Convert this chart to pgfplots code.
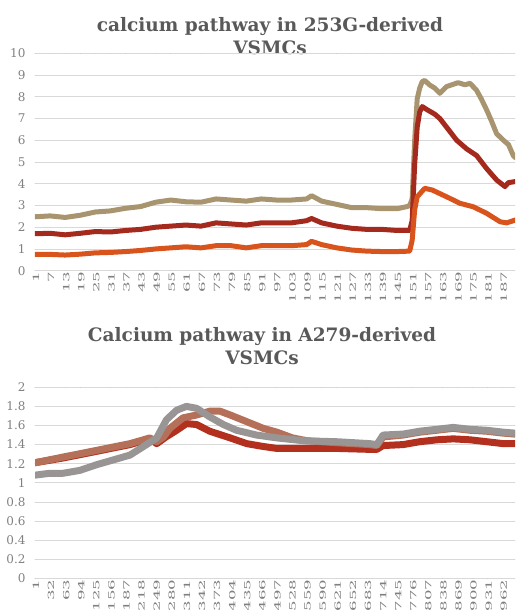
\documentclass[border=0pt]{standalone}
\usepackage{pgfplots}
\pgfplotsset{compat=1.18}
\usepackage{fontspec}
\setmainfont{DejaVu Serif}
\definecolor{tan}{HTML}{A8956F}
\definecolor{dred}{HTML}{A52A1E}
\definecolor{orng}{HTML}{D9541C}
\definecolor{bred}{HTML}{B3301E}
\definecolor{brwn}{HTML}{B5705A}
\definecolor{gry}{HTML}{9A9595}
\definecolor{gridgray}{HTML}{D9D9D9}
\definecolor{ticktxt}{HTML}{808080}
\definecolor{titletxt}{HTML}{595959}
\pgfplotsset{
  excel/.style={
    scale only axis,
    axis line style={draw=none},
    major tick length=0pt,
    ymajorgrids,
    grid style={draw=gridgray, line width=0.8pt},
    /pgf/number format/assume math mode=true,
    yticklabel style={font=\fontsize{12}{12}\selectfont, text=ticktxt, xshift=-6pt},
    xticklabel style={rotate=90, anchor=east, text=ticktxt, yshift=-1pt, inner sep=1pt},
    xticklabel={\scalebox{1.95}[1]{\fontsize{8.5}{8.5}\selectfont\pgfmathprintnumber{\tick}}},
    line join=round, line cap=round,
  }
}
\begin{document}
\begin{tikzpicture}[x=1pt,y=1pt]
\useasboundingbox (0,0) rectangle (515,610);
\node[align=center, text=titletxt, font=\fontsize{18.5}{23}\selectfont\bfseries] at (270,573.5) {calcium pathway in 253G-derived\\VSMCs};
\node[align=center, text=titletxt, font=\fontsize{18.5}{23}\selectfont\bfseries] at (262,264) {Calcium pathway in A279-derived\\VSMCs};
\begin{scope}
\clip (0,310) rectangle (515,610);
\begin{axis}[excel, at={(35pt,339.3pt)}, anchor=south west, width=480pt, height=217.4pt,
  xmin=1, xmax=191.9, ymin=0, ymax=10, ytick={0,1,...,10},
  xtick={1,7,...,187}]
\addplot[tan, line width=5pt] coordinates {
(1,2.48) (7,2.52) (13,2.45) (19,2.55) (25,2.7) (31,2.75) (37,2.87) (43,2.95) (49,3.15) (55,3.25)
(61,3.17) (67,3.15) (73,3.3) (79,3.25) (85,3.2) (91,3.3) (97,3.25) (103,3.25) (109,3.3) (111,3.45)
(115,3.2) (121,3.05) (127,2.9) (133,2.9) (139,2.85) (145,2.85) (149,2.95) (150,3.0) (151,3.3)
(152,6.0) (153,7.9) (154,8.4) (155,8.7) (156,8.75) (158,8.54) (160,8.4) (162,8.16) (164.7,8.47)
(169.3,8.65) (172,8.55) (174,8.62) (176.6,8.3) (178.5,7.9) (180.6,7.4) (182.5,6.9) (184.6,6.3)
(187.3,6.0) (189.3,5.8) (191.2,5.3) (192,5.2)};
\addplot[dred, line width=5pt] coordinates {
(1,1.7) (7,1.72) (13,1.65) (19,1.72) (25,1.8) (31,1.78) (37,1.85) (43,1.9) (49,2.0) (55,2.05)
(61,2.1) (67,2.05) (73,2.2) (79,2.15) (85,2.1) (91,2.2) (97,2.2) (103,2.2) (109,2.3) (111,2.4)
(115,2.2) (121,2.05) (127,1.95) (133,1.9) (139,1.9) (145,1.85) (150,1.85) (151,2.3) (152,4.9)
(153,6.6) (154,7.3) (155,7.55) (157,7.4) (160,7.2) (162,7.0) (164.7,6.6) (168.7,6.0) (172.7,5.6)
(176.6,5.3) (180.6,4.7) (184.6,4.17) (187.9,3.87) (189.3,4.05) (192,4.1)};
\addplot[orng, line width=5pt] coordinates {
(1,0.75) (7,0.75) (13,0.72) (19,0.76) (25,0.82) (31,0.84) (37,0.88) (43,0.93) (49,1.0) (55,1.05)
(61,1.1) (67,1.05) (73,1.15) (79,1.15) (85,1.05) (91,1.15) (97,1.15) (103,1.15) (109,1.2) (111,1.35)
(115,1.2) (121,1.05) (127,0.95) (133,0.9) (139,0.88) (145,0.88) (150,0.9) (151,1.4) (152,2.8)
(153,3.4) (156,3.79) (159,3.71) (164.7,3.4) (170,3.1) (175.3,2.94) (180.6,2.64) (186,2.25)
(188.6,2.2) (192,2.33)};
\end{axis}
\end{scope}
\begin{scope}
\clip (0,0) rectangle (515,310);
\begin{axis}[excel, at={(35pt,31.7pt)}, anchor=south west, width=480pt, height=191pt,
  xmin=1, xmax=987, ymin=0, ymax=2, ytick={0,0.2,0.4,0.6,0.8,1,1.2,1.4,1.6,1.8,2},
  xtick={1,32,...,962}]
\addplot[bred, line width=7pt] coordinates {
(1,1.21) (59,1.26) (128,1.33) (196,1.40) (237,1.46) (251,1.41) (270,1.48) (292,1.55) (312,1.62)
(333,1.61) (360,1.54) (402,1.47) (436,1.41) (470,1.38) (498,1.36) (553,1.36) (621,1.36) (689,1.35)
(703,1.35) (716,1.39) (757,1.40) (791,1.43) (826,1.45) (860,1.46) (895,1.45) (929,1.43) (963,1.41) (987,1.41)};
\addplot[brwn, line width=7pt] coordinates {
(1,1.21) (59,1.27) (128,1.34) (196,1.41) (237,1.47) (251,1.43) (265,1.48) (278,1.57) (305,1.68)
(333,1.71) (360,1.75) (381,1.75) (402,1.71) (436,1.64) (470,1.57) (498,1.53) (530,1.47) (560,1.44)
(621,1.42) (689,1.40) (703,1.39) (716,1.48) (757,1.50) (791,1.53) (826,1.55) (860,1.57) (895,1.55)
(929,1.54) (963,1.52) (987,1.51)};
\addplot[gry, line width=7pt] coordinates {
(1,1.08) (32,1.10) (59,1.10) (93,1.13) (128,1.19) (162,1.24) (196,1.29) (230,1.40) (251,1.47)
(271,1.66) (292,1.76) (312,1.80) (333,1.78) (360,1.69) (388,1.61) (415,1.55) (456,1.50) (498,1.47)
(553,1.44) (621,1.43) (689,1.41) (703,1.40) (716,1.50) (757,1.51) (791,1.54) (826,1.56) (860,1.58)
(895,1.56) (929,1.55) (963,1.53) (987,1.52)};
\end{axis}
\end{scope}
\end{tikzpicture}
\end{document}
